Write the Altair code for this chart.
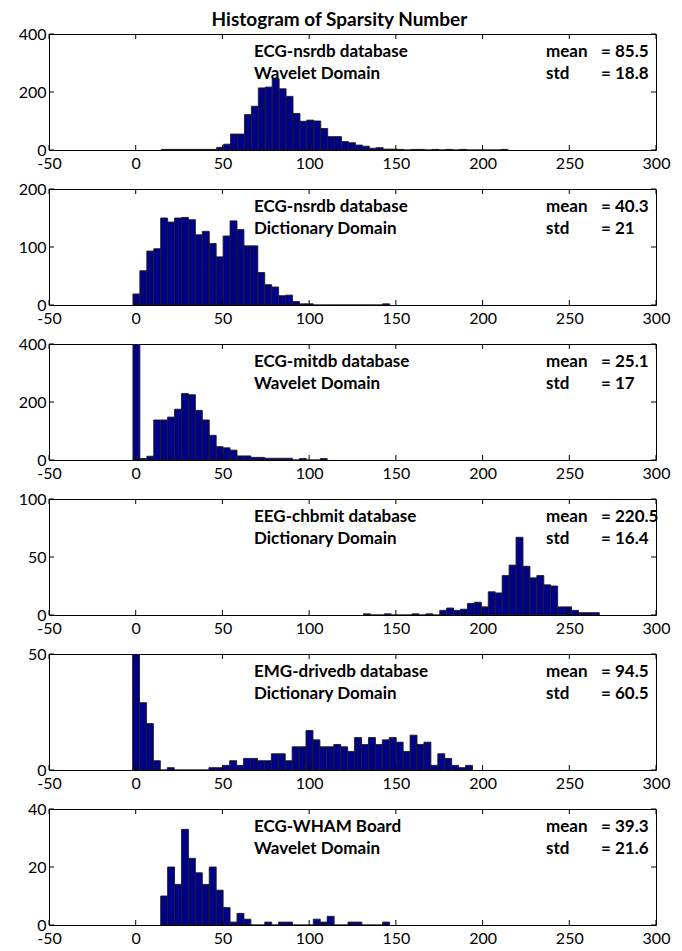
import altair as alt
import pandas as pd

# ---------------- data ----------------
x_ticks = [-50, 0, 50, 100, 150, 200, 250, 300]
bin_width = 4
bin_starts = [14.7, -1.6, -1.6, 131.3, -1.8, 14.4]

counts_nsrdb_wavelet = [2, 2, 2, 2, 2, 2, 2, 2, 9, 20, 55, 55, 122, 151, 214, 217, 246, 211,
                        185, 126, 99, 103, 100, 74, 46, 46, 29, 25, 17, 13, 6, 8, 3, 3, 2, 0,
                        2, 2, 0, 2, 0, 2, 0, 2, 0, 0, 0, 0, 0, 2]
counts_nsrdb_dict = [19, 59, 93, 97, 150, 143, 150, 151, 147, 121, 127, 106, 83, 119, 145, 130,
                     102, 102, 56, 35, 31, 16, 17, 6, 2, 2, 0, 0, 0, 0, 0, 0, 0, 0, 0, 0, 2]
counts_mitdb_wavelet = [400, 5, 13, 138, 138, 148, 175, 229, 225, 171, 138, 85, 46, 42, 34, 14,
                        14, 9, 9, 6, 6, 6, 6, 0, 5, 0, 0, 5]
counts_chbmit_dict = [1, 0, 0, 1, 0, 0, 0, 1, 0, 1, 0, 4, 6, 4, 5, 10, 11, 7, 20, 19, 34, 43, 67,
                      42, 32, 34, 26, 25, 7, 7, 4, 2, 2, 2]
counts_drivedb_dict = [50, 29, 20, 4, 0, 1, 0, 0, 0, 0, 0, 1, 1, 2, 4, 2, 5, 5, 4, 4, 7, 7, 4, 10,
                       10, 17, 13, 10, 10, 11, 10, 8, 14, 11, 14, 11, 13, 14, 12, 8, 15, 11, 12,
                       2, 7, 5, 2, 1, 2]
counts_wham_wavelet = [10, 20, 14, 33, 23, 18, 14, 20, 12, 6, 1, 4, 2, 0, 0, 1, 0, 1, 1, 0, 0, 0,
                       2, 1, 3, 0, 0, 1, 1, 0, 0, 0, 1]

all_counts = [counts_nsrdb_wavelet, counts_nsrdb_dict, counts_mitdb_wavelet,
              counts_chbmit_dict, counts_drivedb_dict, counts_wham_wavelet]

y_max = [400, 200, 400, 100, 50, 40]
y_ticks = [[0, 200, 400], [0, 100, 200], [0, 200, 400], [0, 50, 100], [0, 50], [0, 20, 40]]

line1 = ["ECG-nsrdb database", "ECG-nsrdb database", "ECG-mitdb database",
         "EEG-chbmit database", "EMG-drivedb database", "ECG-WHAM Board"]
line2 = ["Wavelet Domain", "Dictionary Domain", "Wavelet Domain",
         "Dictionary Domain", "Dictionary Domain", "Wavelet Domain"]
means = ["85.5", "40.3", "25.1", "220.5", "94.5", "39.3"]
stds = ["18.8", "21", "17", "16.4", "60.5", "21.6"]

# ---------------- layout ----------------
W = 607
H = 116
FONT = "Lato"
BAR_FILL = "#000088"
BAR_EDGE = "#1e1e1e"


def make_panel(i):
    counts = all_counts[i]
    lo = [bin_starts[i] + k * bin_width for k in range(len(counts))]
    df = pd.DataFrame({"lo": lo, "hi": [v + bin_width for v in lo],
                       "count": counts, "base": [0] * len(counts)})

    xs = alt.Scale(domain=[-50, 300], nice=False, zero=False)
    ys = alt.Scale(domain=[0, y_max[i]], nice=False)
    xaxis = alt.Axis(values=x_ticks, ticks=False, domain=False, grid=False, title=None,
                     labelPadding=5, labelFont=FONT, labelFontSize=16, labelColor="black",
                     labelFlush=False, labelOverlap=False, labelExpr="'' + datum.value")
    yaxis = alt.Axis(values=y_ticks[i], ticks=False, domain=False, grid=False, title=None,
                     labelPadding=3, labelFont=FONT, labelFontSize=16, labelColor="black",
                     labelFlush=False, labelOverlap=False, minExtent=40, maxExtent=40)

    bars = alt.Chart(df).mark_rect(fill=BAR_FILL, stroke=BAR_EDGE, strokeWidth=0.9,
                                   clip=True).encode(
        x=alt.X("lo:Q", scale=xs, axis=xaxis),
        x2="hi:Q",
        y=alt.Y("count:Q", scale=ys, axis=yaxis),
        y2="base:Q",
    )

    xt = pd.DataFrame({"t": x_ticks})
    yt = pd.DataFrame({"v": y_ticks[i]})
    tick_bottom = alt.Chart(xt).mark_rule(color="black", strokeWidth=1).encode(
        x=alt.X("t:Q", scale=xs, axis=xaxis), y=alt.value(H), y2=alt.value(H - 5))
    tick_top = alt.Chart(xt).mark_rule(color="black", strokeWidth=1).encode(
        x=alt.X("t:Q", scale=xs, axis=xaxis), y=alt.value(0), y2=alt.value(5))
    tick_left = alt.Chart(yt).mark_rule(color="black", strokeWidth=1).encode(
        y=alt.Y("v:Q", scale=ys, axis=yaxis), x=alt.value(0), x2=alt.value(5))
    tick_right = alt.Chart(yt).mark_rule(color="black", strokeWidth=1).encode(
        y=alt.Y("v:Q", scale=ys, axis=yaxis), x=alt.value(W - 5), x2=alt.value(W))

    def label(text, x, y):
        return alt.Chart(pd.DataFrame({"s": [text]})).mark_text(
            font=FONT, fontSize=17, fontWeight="bold", color="black",
            align="left", baseline="middle").encode(
            text="s:N", x=alt.value(x), y=alt.value(y))

    texts = [
        label(line1[i], 205, 18),
        label(line2[i], 205, 40),
        label("mean", 497, 18),
        label("std", 497, 40),
        label("= " + means[i], 552, 18),
        label("= " + stds[i], 552, 40),
    ]

    return alt.layer(bars, tick_bottom, tick_top, tick_left, tick_right, *texts).properties(
        width=W, height=H)


panels = [make_panel(i) for i in range(6)]

chart = alt.vconcat(*panels, spacing=8).properties(
    background="white",
    padding={"top": 2, "left": 0, "right": 0, "bottom": 0},
    title=alt.TitleParams("Histogram of Sparsity Number", font=FONT, fontSize=19,
                          fontWeight="bold", anchor="middle", color="black", offset=-4)
).configure_view(stroke="black", strokeWidth=1)

chart.save("out.html", embed_options={"renderer": "svg", "actions": False})
